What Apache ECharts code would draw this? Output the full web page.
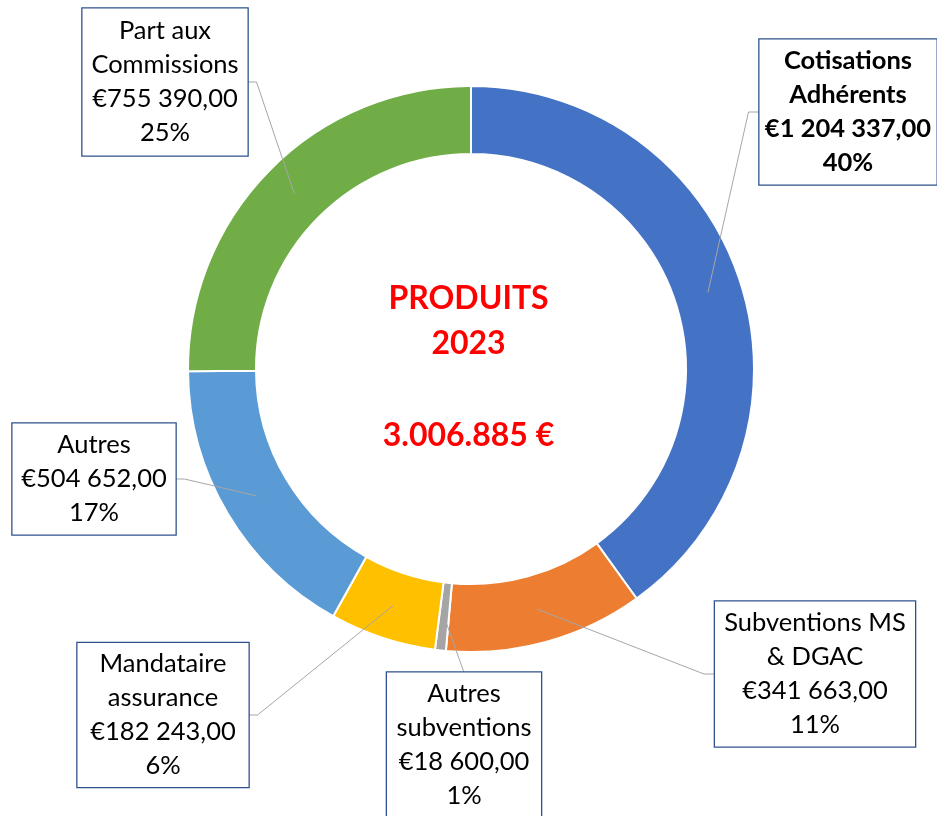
<!DOCTYPE html>
<html>
<head>
<meta charset="utf-8">
<script src="https://cdn.jsdelivr.net/npm/echarts@6/dist/echarts.min.js"></script>
<style>
  html, body { margin: 0; padding: 0; background: #fff; }
  #main { width: 937px; height: 816px; }
</style>
</head>
<body>
<div id="main"></div>
<script>
// Produits 2023 - données
const names = ["Cotisations\nAdhérents", "Subventions MS\n& DGAC", "Autres\nsubventions",
  "Mandataire\nassurance", "Autres", "Part aux\nCommissions"];
const values = [1204337, 341663, 18600, 182243, 504652, 755390];
const colors = ["#4472C4", "#ED7D31", "#A5A5A5", "#FFC000", "#5B9BD5", "#70AD47"];

// cadres des étiquettes (centre x, centre y, largeur, hauteur)
const boxes = [
  [848, 112, 177, 145],
  [815, 674, 200, 145],
  [464, 745, 154, 145],
  [163, 715, 171, 144],
  [94, 479, 163, 111],
  [165, 82, 165, 147]
];

const center = [471, 369];
const radius = [215, 283];

const fmtEuro = v => "€" + v.toLocaleString("fr-FR").replace(/\s/g, " ") + ",00";

const myChart = echarts.init(document.getElementById("main"));

// trait de rappel : du milieu de l'anneau jusqu'au bord du cadre
const leaderLine = params => {
  const b = boxes[params.dataIndex];
  const p0 = params.labelLinePoints[0];
  const dx = p0[0] - center[0], dy = p0[1] - center[1];
  const d = Math.sqrt(dx * dx + dy * dy);
  const rm = (radius[0] + radius[1]) / 2;
  const start = [center[0] + dx / d * rm, center[1] + dy / d * rm];
  const left = b[0] - b[2] / 2, right = b[0] + b[2] / 2;
  if (left > start[0]) {
    return [start, [left - 11, b[1]], [left, b[1]]];
  } else if (right < start[0]) {
    return [start, [right + 9, b[1]], [right, b[1]]];
  }
  const top = b[1] - b[3] / 2;
  return [start, [b[0], top], [b[0], top]];
};

const pieData = names.map((n, i) => ({ name: n, value: values[i] }));

const option = {
  animation: false,
  color: colors,
  graphic: [
    { type: "text", left: "center", top: 283, style: { text: "PRODUITS", fill: "#FF0000", font: "bold 32px Lato" } },
    { type: "text", left: "center", top: 328, style: { text: "2023", fill: "#FF0000", font: "bold 32px Lato" } },
    { type: "text", left: "center", top: 420, style: { text: "3.006.885 €", fill: "#FF0000", font: "bold 32px Lato" } }
  ],
  series: [
    {
      // anneau
      type: "pie",
      z: 2,
      center: center,
      radius: radius,
      startAngle: 90,
      itemStyle: { borderColor: "#fff", borderWidth: 2 },
      label: { show: false },
      labelLine: { show: false },
      data: pieData
    },
    {
      // étiquettes + traits par-dessus l'anneau
      type: "pie",
      z: 3,
      silent: true,
      center: center,
      radius: radius,
      startAngle: 90,
      itemStyle: { color: "rgba(0,0,0,0)", borderWidth: 0 },
      label: {
        show: true,
        fontFamily: "Lato",
        fontSize: 25.5,
        lineHeight: 34,
        color: "#000",
        backgroundColor: "#fff",
        borderColor: "#2F528F",
        borderWidth: 1.3,
        overflow: "none",
        align: "center",
        verticalAlign: "middle",
        formatter: p => p.name + "\n" + fmtEuro(p.value) + "\n" + Math.round(p.percent) + "%"
      },
      labelLine: {
        show: true,
        length: 20,
        length2: 12,
        lineStyle: { color: "#A6A6A6", width: 1 }
      },
      labelLayout: params => {
        const b = boxes[params.dataIndex];
        return {
          x: b[0], y: b[1], align: "center", verticalAlign: "middle",
          labelLinePoints: leaderLine(params)
        };
      },
      data: pieData.map((d, i) => ({
        name: d.name,
        value: d.value,
        label: {
          width: boxes[i][2],
          height: boxes[i][3],
          fontWeight: i === 0 ? "bold" : "normal"
        }
      }))
    }
  ]
};

myChart.setOption(option);
</script>
</body>
</html>
